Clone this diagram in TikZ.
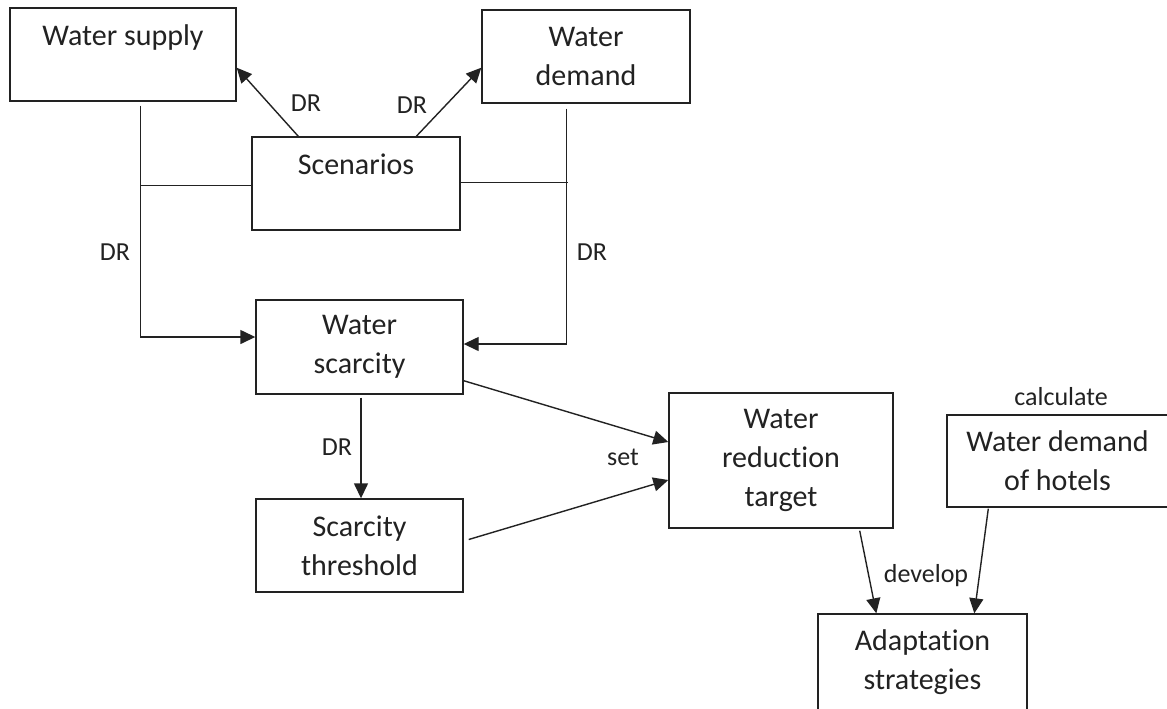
\documentclass[tikz,border=0pt]{standalone}
\usepackage{fontspec}
\setmainfont{Carlito}[Ligatures=NoCommon]
\usetikzlibrary{arrows.meta,calc}
\definecolor{ink}{HTML}{222222}
\tikzset{
  box/.style={draw=ink, line width=0.7pt, inner sep=0pt, align=center, text=ink,
    font=\fontsize{15}{19.5}\selectfont},
  lbl/.style={text=ink, inner sep=0pt, font=\fontsize{13}{16}\selectfont},
  arr/.style={draw=ink, line width=0.7pt, -{Triangle[length=7.5pt,width=7pt]}},
  ln/.style={draw=ink, line width=0.7pt}
}
\begin{document}
\begin{tikzpicture}[x=0.5pt,y=-0.5pt]
\useasboundingbox (0,0) rectangle (1167,708);
\clip (0,0) rectangle (1167,708);
\fill[white] (0,0) rectangle (1167,708);
% boxes
\node[box, minimum width=113pt, minimum height=46.5pt] (ws) at (123,54.5) {Water supply\\\mbox{}};
\node[box, minimum width=104pt, minimum height=46.5pt] (wd) at (586,56.5) {Water\\demand};
\node[box, minimum width=104pt, minimum height=46.5pt] (sc) at (356,183.5) {Scenarios\\\mbox{}};
\node[box, minimum width=103.5pt, minimum height=47pt] (wsc) at (359.5,347) {Water\\scarcity};
\node[box, minimum width=103.5pt, minimum height=46.5pt] (st) at (359.5,545.5) {Scarcity\\threshold};
\node[box, minimum width=112pt, minimum height=67.5pt] (tg) at (781,460.5) {Water\\reduction\\target};
\node[box, minimum width=110.5pt, minimum height=46pt] (hot) at (1057.5,461) {Water demand\\of hotels};
\node[box, minimum width=104.5pt, minimum height=48.5pt] (ad) at (922.5,662.5) {Adaptation\\strategies};
% connectors
\draw[arr] ($(sc.north west)+(47,0)$) -- ($(ws.south east)+(0,-34)$);
\draw[arr] ($(sc.north west)+(165,0)$) -- ($(wd.south west)+(0,-36)$);
\draw[arr] ($(ws.south west)+(131,4)$) |- ($(wsc.west)+(0,-10)$);
\draw[ln] ($(sc.west)+(0,2)$) -- ++(-111,0);
\draw[arr] ($(wd.south west)+(85,5)$) |- ($(wsc.east)+(0,-3)$);
\draw[ln] ($(sc.east)+(0,-1)$) -- ++(107,0);
\draw[arr] ($(wsc.south)+(1.5,3)$) -- ($(st.north)+(1.5,0)$);
\draw[arr] ($(wsc.south east)+(0,-14)$) -- ($(tg.west)+(0,-18.5)$);
\draw[arr] ($(st.east)+(5,-6)$) -- ($(tg.west)+(0,19.5)$);
\draw[arr] ($(tg.south east)+(-34,2)$) -- ($(ad.north west)+(59,0)$);
\draw[arr] ($(hot.south west)+(42,1)$) -- ($(ad.north west)+(157,0)$);
% labels
\node[lbl] (l1) at (306,103) {DR};
\node[lbl] (l2) at (412,105) {DR};
\node[lbl] (l3) at (115,252) {DR};
\node[lbl] (l4) at (592,252) {DR};
\node[lbl] (l5) at (337,447) {DR};
\node[lbl] (l6) at (623,457) {set};
\node[lbl] (l7) at (926,576) {develop};
\node[lbl] (l8) at (1061,397) {calculate};
\end{tikzpicture}
\end{document}
